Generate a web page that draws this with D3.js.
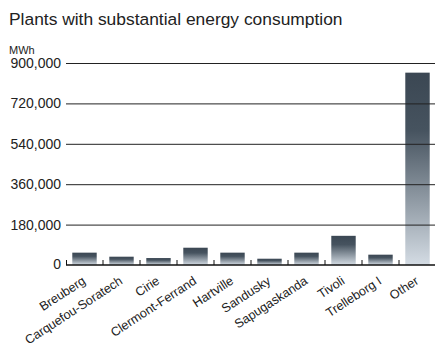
<!DOCTYPE html>
<html>
<head>
<meta charset="utf-8">
<script src="https://cdn.jsdelivr.net/npm/d3@7"></script>
<style>
  body { margin: 0; background: #fff; }
  svg { display: block; font-family: "Liberation Sans", Arial, sans-serif; }
</style>
</head>
<body>
<svg id="chart"></svg>
<script>
// Plants with substantial energy consumption (MWh)
const plants = ['Breuberg', 'Carquefou-Soratech', 'Cirie', 'Clermont-Ferrand', 'Hartville',
    'Sandusky', 'Sapugaskanda', 'Tivoli', 'Trelleborg I', 'Other'];
const consumption = [55000, 37000, 31000, 77000, 55000, 28000, 55000, 130000, 46000, 857000];
const yTicks = [0, 180000, 360000, 540000, 720000, 900000];

const width = 435, height = 345;
const svg = d3.select('#chart').attr('width', width).attr('height', height);

const x = d3.scaleBand()
    .domain(plants)
    .range([66, 436])
    .paddingInner(0.34)
    .paddingOuter(0.17);

const y = d3.scaleLinear()
    .domain([0, 900000])
    .range([265, 63]);

// vertical gradient per bar
const grad = svg.append('defs').append('linearGradient')
    .attr('id', 'barGrad')
    .attr('x1', 0).attr('y1', 0).attr('x2', 0).attr('y2', 1);
grad.append('stop').attr('offset', 0).attr('stop-color', '#3b4753');
grad.append('stop').attr('offset', 0.3).attr('stop-color', '#46535f');
grad.append('stop').attr('offset', 1).attr('stop-color', '#d4dce4');

// title and unit
svg.append('text')
    .attr('x', 9).attr('y', 25)
    .style('font-size', '17.4px')
    .attr('fill', '#222')
    .text('Plants with substantial energy consumption');

svg.append('text')
    .attr('x', 9).attr('y', 54)
    .style('font-size', '11px')
    .attr('fill', '#222')
    .text('MWh');

// bars
svg.selectAll('.bar')
    .data(plants)
    .enter()
    .append('rect')
    .attr('class', 'bar')
    .attr('x', d => x(d))
    .attr('width', x.bandwidth())
    .attr('y', (d, i) => y(consumption[i]))
    .attr('height', (d, i) => y(0) - y(consumption[i]))
    .attr('fill', 'url(#barGrad)');

// y axis: gridlines drawn over the bars
const yAxis = svg.append('g')
    .attr('transform', 'translate(66,0)')
    .call(d3.axisLeft(y).tickValues(yTicks.slice(1)).tickSize(-(width - 66)).tickFormat(d3.format(',')));
yAxis.select('.domain').remove();
yAxis.selectAll('line').attr('stroke', '#222');
yAxis.selectAll('text')
    .attr('x', -5)
    .style('font-size', '14px')
    .style('font-family', '"Liberation Sans", Arial, sans-serif')
    .attr('fill', '#222');

svg.append('text')
    .attr('x', 61).attr('y', y(0))
    .attr('dy', '0.32em')
    .attr('text-anchor', 'end')
    .style('font-size', '14px')
    .attr('fill', '#222')
    .text('0');

// x axis baseline with small upward ticks between categories
svg.append('line')
    .attr('x1', 66).attr('x2', width)
    .attr('y1', y(0)).attr('y2', y(0))
    .attr('stroke', '#111')
    .attr('stroke-width', 1.5);

const step = x.step();
const boundaries = plants.map(d => x(d) - step * x.paddingInner() / 2);
boundaries[0] = 66.5;
svg.selectAll('.xtick')
    .data(boundaries)
    .enter()
    .append('line')
    .attr('class', 'xtick')
    .attr('x1', d => d).attr('x2', d => d)
    .attr('y1', y(0)).attr('y2', y(0) - 5)
    .attr('stroke', '#111');

// rotated category labels
svg.selectAll('.xlabel')
    .data(plants)
    .enter()
    .append('text')
    .attr('class', 'xlabel')
    .attr('text-anchor', 'end')
    .attr('transform', d => `translate(${x(d) + x.bandwidth() / 2 + 2},${y(0) + 18}) rotate(-33)`)
    .style('font-size', '12.6px')
    .attr('fill', '#222')
    .text(d => d);
</script>
</body>
</html>
